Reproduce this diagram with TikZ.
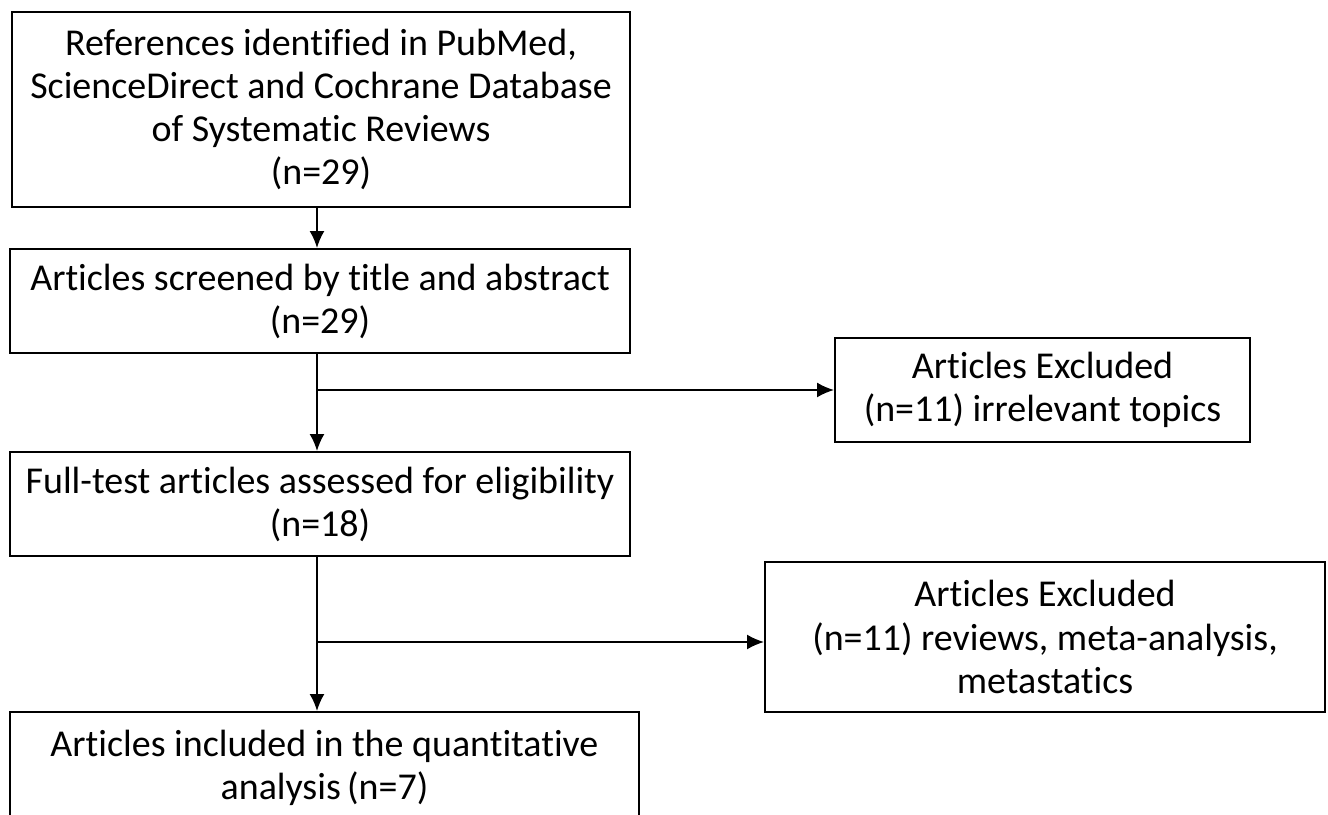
\documentclass[tikz,border=0pt]{standalone}
\usepackage{fontspec}
\setmainfont[Ligatures=NoCommon]{Carlito}
\usepackage{tikz}
\usetikzlibrary{positioning,arrows.meta}

\begin{document}
\begin{tikzpicture}[
    stage/.style={draw=black, line width=1.1pt, align=center,
                  font=\fontsize{21.6}{24.5}\selectfont, inner sep=0pt},
    flow/.style={line width=1.1pt, -{Latex[length=3.4mm,width=3mm]}}]
  \clip (0,0) rectangle (26.56,16.28);
  % main column
  \node[stage, minimum width=12.36cm, minimum height=3.9cm] (refs) at (6.42,14.09)
       {References identified in PubMed,\\ScienceDirect and Cochrane Database\\of Systematic Reviews\\(n=29)};
  \node[stage, minimum width=12.4cm, minimum height=2.08cm] (screen) at (6.4,10.26)
       {Articles screened by title and abstract\\(n=29)};
  \node[stage, minimum width=12.4cm, minimum height=2.08cm] (full) at (6.4,6.2)
       {Full-test articles assessed for eligibility\\(n=18)};
  \node[stage, minimum width=12.58cm, minimum height=2.24cm] (incl) at (6.49,0.92)
       {Articles included in the quantitative\\analysis\,(n=7)};
  % exclusions
  \node[stage, minimum width=8.3cm, minimum height=2.08cm] (excl1) at (20.85,8.48)
       {Articles Excluded\\(n=11) irrelevant topics};
  \node[stage, minimum width=11.2cm, minimum height=3.0cm] (excl2) at (20.9,3.54)
       {Articles Excluded\\(n=11) reviews, meta-analysis,\\metastatics};
  % connectors
  \coordinate (spine) at (6.34,0);
  \coordinate (j1) at (6.34,8.48);
  \coordinate (j2) at (6.34,3.44);
  \draw[flow] (refs.south -| spine) -- (screen.north -| spine);
  \draw[flow] (screen.south -| spine) -- (full.north -| spine);
  \draw[flow] (full.south -| spine) -- (incl.north -| spine);
  \draw[flow] (j1) -- (j1 -| excl1.west);
  \draw[flow] (j2) -- (j2 -| excl2.west);
\end{tikzpicture}
\end{document}
